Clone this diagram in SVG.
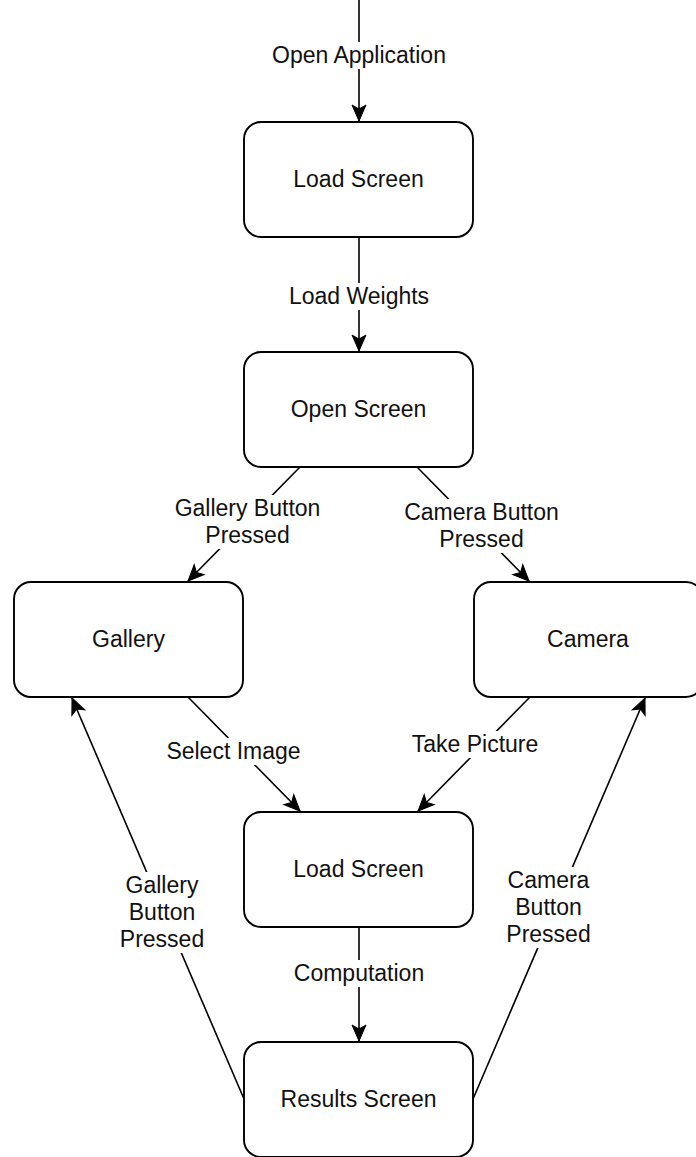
<svg xmlns="http://www.w3.org/2000/svg" width="696" height="1157" viewBox="0 0 696 1157">
  <style>
    .box { fill: #ffffff; stroke: #000000; stroke-width: 1.9; }
    .edge { fill: none; stroke: #000000; stroke-width: 1.6; }
    .arrow { marker-end: url(#arrowhead); }
    .lbl-bg { fill: #ffffff; stroke: none; }
    text { font-family: "Liberation Sans", Arial, Helvetica, sans-serif; font-size: 23px; fill: #111111; text-anchor: middle; }
  </style>
  <defs>
    <marker id="arrowhead" markerUnits="userSpaceOnUse" markerWidth="20" markerHeight="18" viewBox="-18 -9 20 18" refX="0" refY="0" orient="auto">
      <path d="M0,0 L-16,-7 L-12,0 L-16,7 Z" fill="#000000" stroke="#000000" stroke-width="1"/>
    </marker>
  </defs>

  <rect width="696" height="1157" fill="#ffffff"/>

  <!-- connectors and their labels -->
  <g id="connectors">
    <line class="edge arrow" x1="359" y1="0" x2="359" y2="121"/>
    <line class="edge arrow" x1="359" y1="237" x2="359" y2="351"/>
    <line class="edge arrow" x1="300" y1="467" x2="188" y2="581"/>
    <line class="edge arrow" x1="417" y1="467" x2="529" y2="581"/>
    <line class="edge arrow" x1="188" y1="697" x2="300" y2="811"/>
    <line class="edge arrow" x1="530" y1="697" x2="418" y2="811"/>
    <line class="edge arrow" x1="359" y1="928" x2="359" y2="1041"/>
    <line class="edge arrow" x1="244" y1="1099" x2="72" y2="698"/>
    <line class="edge arrow" x1="473" y1="1099" x2="645" y2="698"/>

    <g id="lbl-open-application">
      <rect class="lbl-bg" x="271" y="42" width="176" height="27"/>
      <text x="359" y="63">Open Application</text>
    </g>
    <g id="lbl-load-weights">
      <rect class="lbl-bg" x="288" y="283" width="142" height="27"/>
      <text x="359" y="304">Load Weights</text>
    </g>
    <g id="lbl-gallery-button">
      <rect class="lbl-bg" x="174" y="495" width="147" height="54"/>
      <text x="247.5" y="516">Gallery Button</text>
      <text x="247.5" y="543">Pressed</text>
    </g>
    <g id="lbl-camera-button">
      <rect class="lbl-bg" x="404" y="499" width="156" height="54"/>
      <text x="481.5" y="520">Camera Button</text>
      <text x="481.5" y="547">Pressed</text>
    </g>
    <g id="lbl-select-image">
      <rect class="lbl-bg" x="166" y="738" width="135" height="27"/>
      <text x="233.5" y="759">Select Image</text>
    </g>
    <g id="lbl-take-picture">
      <rect class="lbl-bg" x="410" y="731" width="130" height="27"/>
      <text x="475" y="752">Take Picture</text>
    </g>
    <g id="lbl-computation">
      <rect class="lbl-bg" x="293" y="960" width="132" height="27"/>
      <text x="359" y="981">Computation</text>
    </g>
    <g id="lbl-gallery-return">
      <rect class="lbl-bg" x="119" y="872" width="86" height="81"/>
      <text x="162" y="893">Gallery</text>
      <text x="162" y="920">Button</text>
      <text x="162" y="947">Pressed</text>
    </g>
    <g id="lbl-camera-return">
      <rect class="lbl-bg" x="506" y="867" width="85" height="81"/>
      <text x="548.5" y="888">Camera</text>
      <text x="548.5" y="915">Button</text>
      <text x="548.5" y="942">Pressed</text>
    </g>
  </g>

  <!-- states -->
  <g id="node-load-screen">
    <rect class="box" x="244" y="122" width="229" height="115" rx="17" ry="17"/>
    <text x="358.5" y="187">Load Screen</text>
  </g>
  <g id="node-open-screen">
    <rect class="box" x="244" y="352" width="229" height="115" rx="17" ry="17"/>
    <text x="358.5" y="417">Open Screen</text>
  </g>
  <g id="node-gallery">
    <rect class="box" x="14" y="582" width="229" height="115" rx="17" ry="17"/>
    <text x="128.5" y="647">Gallery</text>
  </g>
  <g id="node-camera">
    <rect class="box" x="474" y="582" width="229" height="115" rx="17" ry="17"/>
    <text x="588" y="647">Camera</text>
  </g>
  <g id="node-load-screen-2">
    <rect class="box" x="244" y="812" width="229" height="115" rx="17" ry="17"/>
    <text x="358.5" y="877">Load Screen</text>
  </g>
  <g id="node-results-screen">
    <rect class="box" x="244" y="1042" width="229" height="115" rx="17" ry="17"/>
    <text x="358.5" y="1107">Results Screen</text>
  </g>
</svg>
